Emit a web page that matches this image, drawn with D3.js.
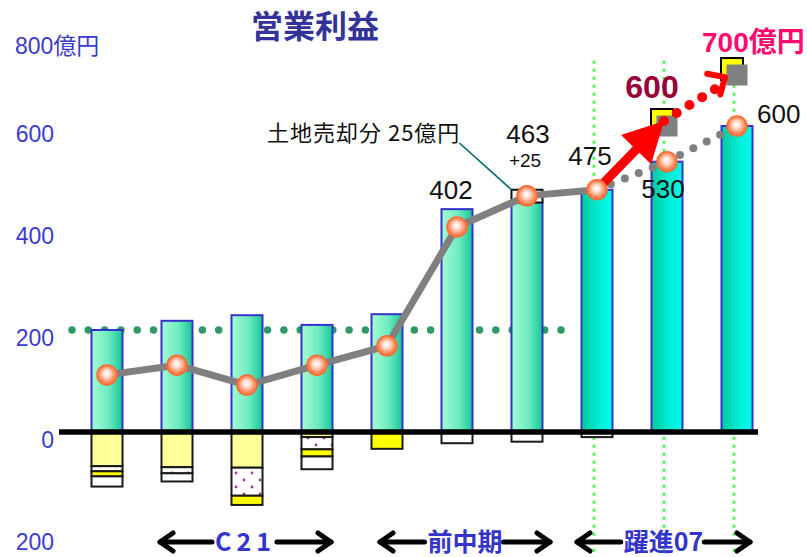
<!DOCTYPE html>
<html>
<head>
<meta charset="utf-8">
<script src="https://cdn.jsdelivr.net/npm/d3@7"></script>
<style>
  body { margin: 0; background: #fff; }
  svg { display: block; }
</style>
</head>
<body>
<svg id="chart" width="807" height="557"></svg>
<script>
// ---- data (100M yen) ----
const categories = ["Y1", "Y2", "Y3", "Y4", "Y5", "Y6", "Y7", "Y8", "Y9", "Y10"];
const planStart = 7;                       // first plan year (躍進07)
const barValues = [200, 218, 229, 210, 231, 437, 450, 475, 530, 600];
const landSale = [0, 0, 0, 0, 0, 0, 25, 0, 0, 0];
const deductPale   = [67, 69, 70, 10, 0, 0, 0, 0, 0, 0];
const deductDotted = [10, 12, 55, 24, 0, 0, 0, 0, 0, 0];
const deductYellow = [10, 0, 18, 14, 33, 0, 0, 0, 0, 0];
const deductWhite  = [20, 16, 0, 25, 0, 22, 19, 10, 0, 0];
const profitActual = [112, 131, 92, 131, 169, 402, 463, 475];
const profitPlan = [475, 530, 600];        // years 8-10
const targetIndex = [8, 9];
const targetValues = [600, 700];
const refLevel = 200;
const yTicks = [-200, 0, 200, 400, 600, 800];
const periodNames = ["C21", "前中期", "躍進07"];
const periodSpans = [[158, 333], [378, 552], [575, 752]];
const titleText = "営業利益";
const landNote = "土地売却分 25億円";

// ---- setup ----
const W = 807, H = 557;
const svg = d3.select("#chart");
const defs = svg.append("defs");

const x = d3.scaleBand().domain(categories).range([72, 772])
  .paddingInner(0.557).paddingOuter(0.2785);
const y = d3.scaleLinear().domain([-200, 800]).range([534, 24]);
const cx = i => x(categories[i]) + x.bandwidth() / 2;
const bw = x.bandwidth();

const LATIN = "'Liberation Sans', Arial, 'Noto Sans CJK JP', sans-serif";
const CJK = "'Noto Sans CJK JP', 'Liberation Sans', sans-serif";

// gradients & pattern
const gA = defs.append("linearGradient").attr("id", "barActual");
gA.append("stop").attr("offset", "0%").attr("stop-color", "#a4fbd2");
gA.append("stop").attr("offset", "55%").attr("stop-color", "#6eebc0");
gA.append("stop").attr("offset", "100%").attr("stop-color", "#16c796");
const gB = defs.append("linearGradient").attr("id", "barPlan");
gB.append("stop").attr("offset", "0%").attr("stop-color", "#00c99a");
gB.append("stop").attr("offset", "60%").attr("stop-color", "#00eed8");
gB.append("stop").attr("offset", "100%").attr("stop-color", "#00fbec");

const ball = defs.append("radialGradient").attr("id", "ball")
  .attr("cx", "50%").attr("cy", "48%").attr("r", "55%")
  .attr("fx", "47%").attr("fy", "42%");
ball.append("stop").attr("offset", "0%").attr("stop-color", "#ffffff");
ball.append("stop").attr("offset", "30%").attr("stop-color", "#ffe2d6");
ball.append("stop").attr("offset", "70%").attr("stop-color", "#ff8e62");
ball.append("stop").attr("offset", "100%").attr("stop-color", "#ff6a30");

const pat = defs.append("pattern").attr("id", "dots")
  .attr("patternUnits", "userSpaceOnUse").attr("width", 16).attr("height", 14);
pat.append("rect").attr("width", 16).attr("height", 14).attr("fill", "#fff");
pat.append("circle").attr("cx", 4).attr("cy", 4).attr("r", 1.4).attr("fill", "#9b3b9b");
pat.append("circle").attr("cx", 12).attr("cy", 11).attr("r", 1.4).attr("fill", "#9b3b9b");

// ---- title ----
svg.append("text").attr("x", 315).attr("y", 38).attr("text-anchor", "middle")
  .attr("font-family", CJK).attr("font-weight", 700).attr("font-size", 32)
  .attr("fill", "#333399").text(titleText);

// ---- y axis labels ----
const axis = d3.axisLeft(y).tickValues(yTicks).tickSize(0).tickPadding(0)
  .tickFormat(d => d === 800 ? "800億円" : String(Math.abs(d)));
const ag = svg.append("g").attr("transform", "translate(54,0)").call(axis);
ag.select(".domain").remove();
ag.selectAll("text").attr("font-family", LATIN).attr("font-size", 23)
  .attr("fill", "#3b3bcc").attr("y", 8)
  .filter(d => d === 800).attr("text-anchor", "start").attr("x", -39).attr("y", 22);

// ---- guide lines ----
svg.append("g").selectAll("line").data(d3.range(planStart, categories.length)).join("line")
  .attr("x1", i => cx(i) - 3).attr("x2", i => cx(i) - 3)
  .attr("y1", y(728)).attr("y2", H)
  .attr("stroke", "#5cf05c").attr("stroke-width", 3).attr("stroke-dasharray", "3,5");

svg.append("line").attr("x1", 72).attr("x2", 565).attr("y1", y(refLevel)).attr("y2", y(refLevel))
  .attr("stroke", "#2f9a68").attr("stroke-width", 7.5).attr("stroke-linecap", "round")
  .attr("stroke-dasharray", "0,16.3");

// ---- bars ----
svg.append("g").selectAll("rect").data(barValues).join("rect")
  .attr("x", (d, i) => x(categories[i])).attr("width", bw)
  .attr("y", d => y(d)).attr("height", d => y(0) - y(d))
  .attr("fill", (d, i) => i >= planStart ? "url(#barPlan)" : "url(#barActual)")
  .attr("stroke", "#3434cc").attr("stroke-width", 2);

// ---- deductions below zero ----
const keys = ["pale", "dotted", "yellow", "white"];
const fills = { pale: "#ffff99", dotted: "url(#dots)", yellow: "#ffff00", white: "#ffffff" };
const stackRows = categories.map((c, i) => ({
  cat: c, pale: -deductPale[i], dotted: -deductDotted[i],
  yellow: -deductYellow[i], white: -deductWhite[i]
}));
const series = d3.stack().keys(keys).offset(d3.stackOffsetDiverging)(stackRows);
svg.append("g").selectAll("g").data(series).join("g")
  .attr("fill", s => fills[s.key])
  .selectAll("rect").data(s => s.filter(d => d[1] - d[0] !== 0)).join("rect")
  .attr("x", d => x(d.data.cat)).attr("width", bw)
  .attr("y", d => y(d[1])).attr("height", d => y(d[0]) - y(d[1]))
  .attr("stroke", "#1a1a1a").attr("stroke-width", 2);

// zero line
svg.append("line").attr("x1", 59).attr("x2", 758).attr("y1", y(0)).attr("y2", y(0))
  .attr("stroke", "#000").attr("stroke-width", 5.5);

// ---- land sale box ----
const landIdx = landSale.findIndex(v => v > 0);
svg.append("rect").attr("x", x(categories[landIdx])).attr("width", bw)
  .attr("y", y(barValues[landIdx] + landSale[landIdx]))
  .attr("height", y(barValues[landIdx]) - y(barValues[landIdx] + landSale[landIdx]))
  .attr("fill", "#fff").attr("stroke", "#111").attr("stroke-width", 2);

const note = svg.append("text").attr("x", 267).attr("y", 141)
  .attr("font-family", CJK).attr("font-size", 22).attr("letter-spacing", 1)
  .attr("fill", "#111").text(landNote);
const nb = note.node().getBBox();
svg.append("line").attr("x1", nb.x + nb.width - 1).attr("y1", 143)
  .attr("x2", x(categories[landIdx])).attr("y2", y(barValues[landIdx] + landSale[landIdx]))
  .attr("stroke", "#006b6b").attr("stroke-width", 1.6);

// ---- profit line ----
const actualPts = profitActual.map((v, i) => [cx(i), y(v)]);
const planPts = profitPlan.map((v, k) => [cx(planStart + k), y(v)]);
svg.append("path").attr("d", d3.line()(actualPts)).attr("fill", "none")
  .attr("stroke", "#808080").attr("stroke-width", 7).attr("stroke-linejoin", "round");
svg.append("path").attr("d", d3.line()(planPts)).attr("fill", "none")
  .attr("stroke", "#808080").attr("stroke-width", 8).attr("stroke-linecap", "round")
  .attr("stroke-dasharray", "0,15");

// ---- targets ----
const tPts = targetValues.map((v, k) => [cx(targetIndex[k]), y(v)]);
const tg = svg.append("g");
tg.selectAll("rect.back").data(tPts).join("rect").attr("class", "back")
  .attr("x", p => p[0] - 16).attr("y", p => p[1] - 17).attr("width", 22).attr("height", 22)
  .attr("fill", "#ffff00").attr("stroke", "#000").attr("stroke-width", 2);
tg.selectAll("rect.front").data(tPts).join("rect").attr("class", "front")
  .attr("x", p => p[0] - 10.5).attr("y", p => p[1] - 10.5).attr("width", 21).attr("height", 21)
  .attr("fill", "#808080");

// red arrow from latest actual to first target
function arrowPath(s, t, shaft, headLen, headHalf) {
  const dx = t[0] - s[0], dy = t[1] - s[1], L = Math.hypot(dx, dy);
  const u = [dx / L, dy / L], n = [-u[1], u[0]];
  const b = [t[0] - u[0] * headLen, t[1] - u[1] * headLen];
  const P = (p, k) => [p[0] + n[0] * k, p[1] + n[1] * k];
  return d3.line()([P(s, shaft / 2), P(b, shaft / 2), P(b, headHalf), t,
    P(b, -headHalf), P(b, -shaft / 2), P(s, -shaft / 2)]) + "Z";
}
const aStart = planPts[0];
const aEnd = [tPts[0][0] - 3, tPts[0][1] - 5];
svg.append("path").attr("d", arrowPath(aStart, aEnd, 9, 40, 21)).attr("fill", "#ff0000");

// red dotted path towards the second target
const r0 = aEnd, r1 = tPts[1];
const f = 0.78;
const rTip = [r0[0] + (r1[0] - r0[0]) * f, r0[1] + (r1[1] - r0[1]) * f];
svg.append("line").attr("x1", r0[0]).attr("y1", r0[1]).attr("x2", rTip[0] - 6).attr("y2", rTip[1] + 4)
  .attr("stroke", "#ff0000").attr("stroke-width", 10).attr("stroke-linecap", "round")
  .attr("stroke-dasharray", "0,15");
{
  const dx = r1[0] - r0[0], dy = r1[1] - r0[1], L = Math.hypot(dx, dy);
  const back = [-dx / L, -dy / L];
  const rot = (v, a) => [v[0] * Math.cos(a) - v[1] * Math.sin(a), v[0] * Math.sin(a) + v[1] * Math.cos(a)];
  const tip = [rTip[0] + 4, rTip[1] - 8];
  const a1 = rot(back, 0.75), a2 = rot(back, -0.75);
  svg.append("path")
    .attr("d", d3.line()([[tip[0] + a1[0] * 18, tip[1] + a1[1] * 18], tip, [tip[0] + a2[0] * 18, tip[1] + a2[1] * 18]]))
    .attr("fill", "none").attr("stroke", "#ff0000").attr("stroke-width", 6)
    .attr("stroke-linecap", "round").attr("stroke-linejoin", "round");
}

// ---- profit points ----
const allPts = actualPts.concat(planPts.slice(1));
svg.append("g").selectAll("circle").data(allPts).join("circle")
  .attr("cx", p => p[0]).attr("cy", p => p[1]).attr("r", 10)
  .attr("fill", "url(#ball)").attr("stroke", "#ff6a30").attr("stroke-width", 1.5);

// ---- value labels ----
const lab = (tx, px, py, opts = {}) => svg.append("text").attr("x", px).attr("y", py)
  .attr("text-anchor", opts.anchor || "middle")
  .attr("font-family", opts.family || LATIN).attr("font-size", opts.size || 26)
  .attr("font-weight", opts.weight || 400).attr("fill", opts.fill || "#111").text(tx);

lab(profitActual[5], cx(5) - 6, y(barValues[5]) - 10);
const boxTop = y(barValues[landIdx] + landSale[landIdx]);
lab(profitActual[6], cx(6) + 1, boxTop - 47);
lab("+" + landSale[landIdx], cx(6) - 2, boxTop - 23, { size: 19 });
lab(profitPlan[0], cx(7) - 7, y(profitPlan[0]) - 25);
lab(profitPlan[1], cx(8) - 4, y(profitPlan[1]) + 36);
lab(profitPlan[2], cx(9) + 20, y(profitPlan[2]) - 3, { anchor: "start" });
lab(targetValues[0], tPts[0][0] - 15, tPts[0][1] - 28, { size: 32, weight: 700, fill: "#99003a" });
lab(targetValues[1] + "億円", tPts[1][0] - 35, tPts[1][1] - 23,
  { size: 28, weight: 700, fill: "#ff0a6e", anchor: "start" });

// ---- period arrows ----
const py = 542;
periodNames.forEach((name, k) => {
  const [a, b] = periodSpans[k];
  const mid = (a + b) / 2;
  const t = svg.append("text").attr("x", mid).attr("y", py + 9)
    .attr("text-anchor", "middle")
    .attr("font-family", CJK).attr("font-weight", 700).attr("font-size", 25)
    .attr("letter-spacing", name === "C21" ? 5 : 0)
    .attr("fill", "#3434cc").text(name);
  const bb = t.node().getBBox();
  const g = svg.append("g").attr("fill", "none").attr("stroke", "#000")
    .attr("stroke-width", 5).attr("stroke-linecap", "round").attr("stroke-linejoin", "round");
  g.append("line").attr("x1", a + 2).attr("x2", bb.x - 3).attr("y1", py).attr("y2", py);
  g.append("line").attr("x1", bb.x + bb.width + 1).attr("x2", b - 2).attr("y1", py).attr("y2", py);
  g.append("path").attr("d", d3.line()([[a + 15, py - 9], [a + 2, py], [a + 15, py + 9]]));
  g.append("path").attr("d", d3.line()([[b - 15, py - 9], [b - 2, py], [b - 15, py + 9]]));
});
</script>
</body>
</html>
